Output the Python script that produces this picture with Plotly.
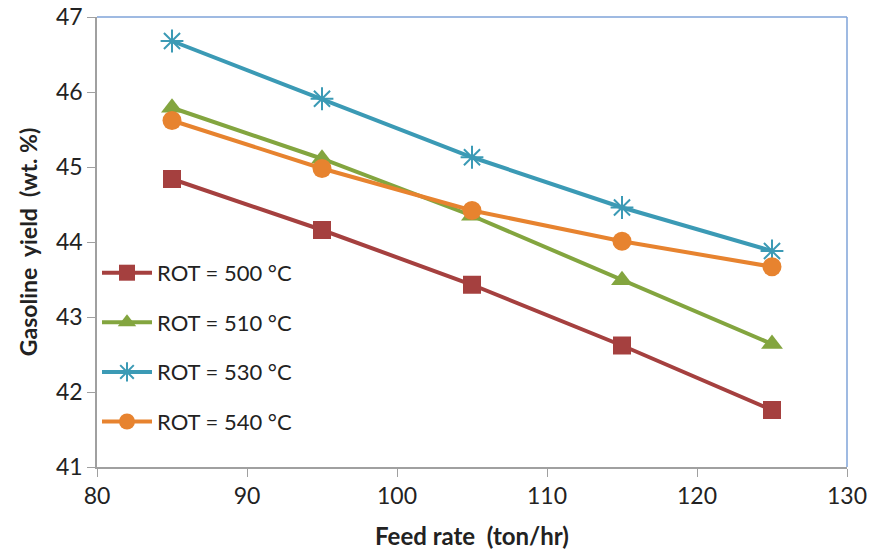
import plotly.graph_objects as go

feed_rate = [85, 95, 105, 115, 125]
rot_500 = [44.84, 44.16, 43.43, 42.62, 41.76]
rot_510 = [45.79, 45.11, 44.35, 43.49, 42.64]
rot_530 = [46.68, 45.91, 45.13, 44.46, 43.88]
rot_540 = [45.62, 44.98, 44.42, 44.01, 43.67]

names = ["ROT = 500 °C", "ROT = 510 °C", "ROT = 530 °C", "ROT = 540 °C"]
colors = ["#A5403F", "#83A53F", "#3B9AB5", "#E7832F"]
symbols = ["square", "triangle-up", "asterisk", "circle"]
series = [rot_500, rot_510, rot_530, rot_540]
marker_sizes = [18, 19, 19, 19]

font_family = "Lato, Open Sans, sans-serif"

fig = go.Figure()
for i, (nm, ys) in enumerate(zip(names, series)):
    marker = dict(symbol=symbols[i], size=marker_sizes[i], color=colors[i])
    if symbols[i] == "asterisk":
        marker["line"] = dict(color=colors[i], width=2)
    fig.add_trace(go.Scatter(
        x=feed_rate, y=ys, name=nm, mode="lines+markers",
        line=dict(color=colors[i], width=4),
        marker=marker, legendgroup=f"g{i}",
    ))

fig.update_layout(
    width=871, height=556,
    margin=dict(l=97, r=24, t=17, b=89, autoexpand=False),
    plot_bgcolor="white", paper_bgcolor="white",
    font=dict(family=font_family, size=21, color="#222"),
    showlegend=True,
    legend=dict(x=0.0, y=0.478, xanchor="left", yanchor="top",
                bgcolor="rgba(0,0,0,0)", tracegroupgap=18, itemwidth=50,
                font=dict(size=22, family=font_family, color="#222"),
                traceorder="grouped"),
    xaxis=dict(range=[80, 130], dtick=10, tick0=80, showgrid=False,
               showline=True, linecolor="#A0A0A0", linewidth=1.5,
               ticks="outside", ticklen=8, tickcolor="#A0A0A0",
               tickfont=dict(size=23, family=font_family),
               automargin=False,
               title=dict(text="<b>Feed rate  (ton/hr)</b>", standoff=20,
                          font=dict(size=24, family=font_family)),
               zeroline=False),
    yaxis=dict(range=[41, 47], dtick=1, showgrid=False,
               showline=True, linecolor="#A0A0A0", linewidth=1.5,
               ticks="outside", ticklen=8, tickcolor="#A0A0A0",
               tickfont=dict(size=23, family=font_family),
               automargin=False,
               title=dict(text="<b>Gasoline  yield  (wt. %)</b>", standoff=12,
                          font=dict(size=23, family=font_family)),
               zeroline=False),
)

fig.add_shape(type="line", xref="paper", yref="paper", x0=0, x1=1, y0=1, y1=1,
              line=dict(color="#7FA3D9", width=1.5))
fig.add_shape(type="line", xref="paper", yref="paper", x0=1, x1=1, y0=0, y1=1,
              line=dict(color="#7FA3D9", width=1.5))

fig.write_html("out.html")
